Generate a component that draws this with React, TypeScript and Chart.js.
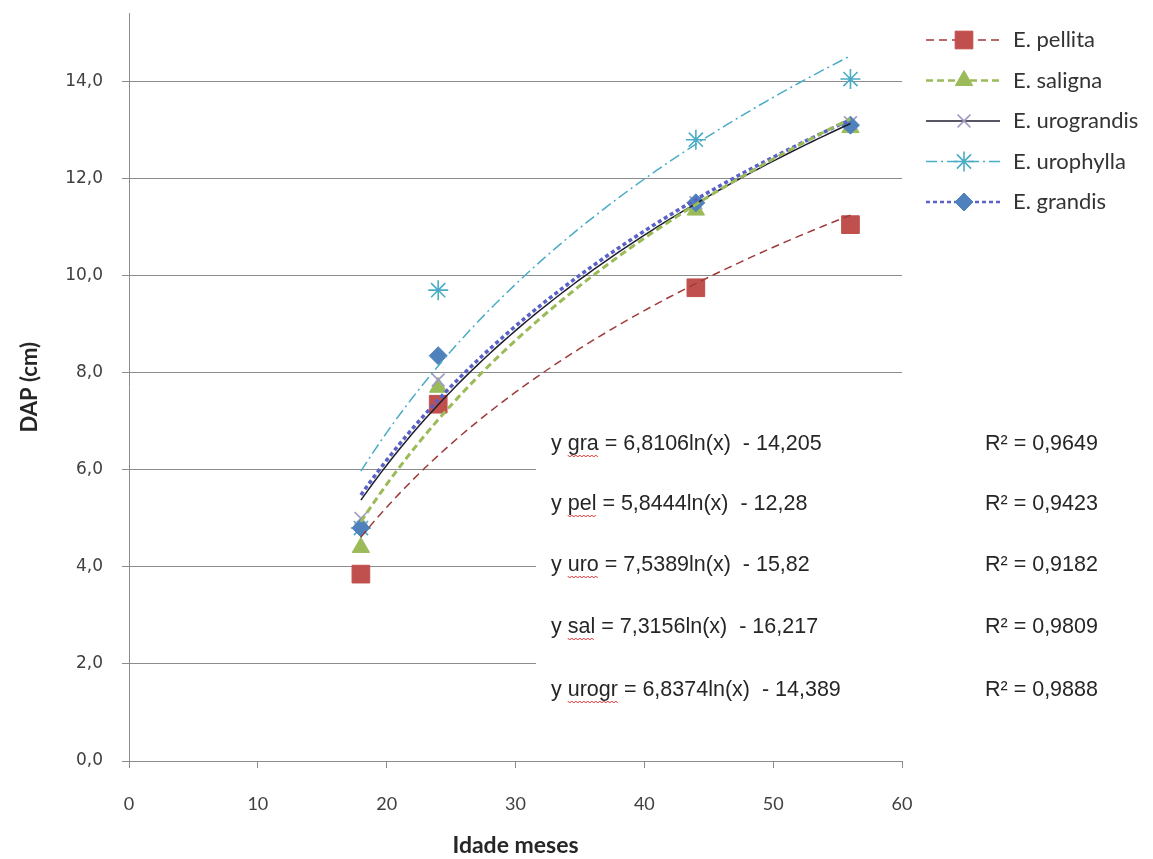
import React, { useEffect, useRef } from 'react';
import { Chart, registerables } from 'chart.js';
import { drawPoint } from 'chart.js/helpers';

Chart.register(...registerables);

// ---- data ----
const ages = [18, 24, 44, 56];
const pellita = [3.85, 7.35, 9.75, 11.05];
const saligna = [4.4, 7.7, 11.35, 13.05];
const urograndis = [5.0, 7.85, 11.5, 13.15];
const urophylla = [4.8, 9.7, 12.8, 14.05];
const grandis = [4.8, 8.35, 11.5, 13.1];

const seriesNames = ['E. pellita', 'E. saligna', 'E. urograndis', 'E. urophylla', 'E. grandis'];
// logarithmic trend lines y = a ln(x) + b, as printed in the chart
const trendA = [5.8444, 7.3156, 6.8374, 7.5389, 6.8106];
const trendB = [-12.28, -16.217, -14.389, -15.82, -14.205];
const trendRange = [18, 56];

const eqNames = ['gra', 'pel', 'uro', 'sal', 'urogr'];
const eqRhs = [
  '= 6,8106ln(x)  - 14,205',
  '= 5,8444ln(x)  - 12,28',
  '= 7,5389ln(x)  - 15,82',
  '= 7,3156ln(x)  - 16,217',
  '= 6,8374ln(x)  - 14,389',
];
const r2Texts = ['R² = 0,9649', 'R² = 0,9423', 'R² = 0,9182', 'R² = 0,9809', 'R² = 0,9888'];

const xTickValues = [0, 10, 20, 30, 40, 50, 60];
const yTickValues = [0, 2, 4, 6, 8, 10, 12, 14];

// ---- styles ----
const markerStyles = [
  { pointStyle: 'rect', radius: 12.5, fill: '#C0504D', stroke: '#C0504D', bw: 1 },
  { pointStyle: 'triangle', radius: 10, fill: '#9BBB59', stroke: '#9BBB59', bw: 1 },
  { pointStyle: 'crossRot', radius: 9, fill: '#9F9BC2', stroke: '#9F9BC2', bw: 1.6 },
  { pointStyle: 'star', radius: 10, fill: '#4BACC6', stroke: '#4BACC6', bw: 1.6 },
  { pointStyle: 'rectRot', radius: 9, fill: '#4F81BD', stroke: '#4F81BD', bw: 1 },
];
const trendStyles = [
  { color: '#9E3B3A', width: 1.5, dash: [8, 5] },
  { color: '#9BBB59', width: 3, dash: [7, 4] },
  { color: '#1E1E30', width: 1.5, dash: [] as number[] },
  { color: '#4BACC6', width: 1.5, dash: [11, 4, 2, 4] },
  { color: '#5A62C8', width: 3.5, dash: [4, 3] },
];
const markerOrder = [12, 13, 11, 14, 10];

const seriesValues = [pellita, saligna, urograndis, urophylla, grandis];

function trendPoints(i: number) {
  const pts: { x: number; y: number }[] = [];
  for (let x = trendRange[0]; x <= trendRange[1] + 1e-9; x += 0.5) {
    pts.push({ x, y: trendA[i] * Math.log(x) + trendB[i] });
  }
  return pts;
}

const legendYs = [40, 80.5, 121, 161.5, 202];

const overlayPlugin = {
  id: 'overlay',
  afterDraw(chart: any) {
    const ctx = chart.ctx as CanvasRenderingContext2D;
    ctx.save();
    // legend
    for (let i = 0; i < seriesNames.length; i++) {
      const y = legendYs[i];
      const ts = trendStyles[i];
      ctx.strokeStyle = ts.color;
      ctx.lineWidth = Math.min(ts.width, 2.5);
      ctx.setLineDash(ts.dash);
      ctx.beginPath();
      ctx.moveTo(926, y);
      ctx.lineTo(1000, y);
      ctx.stroke();
      ctx.setLineDash([]);
      const ms = markerStyles[i];
      ctx.fillStyle = ms.fill;
      ctx.strokeStyle = ms.stroke;
      ctx.lineWidth = ms.bw;
      drawPoint(ctx, { pointStyle: ms.pointStyle as any, radius: ms.radius, borderWidth: ms.bw, rotation: 0 }, 964, y);
      ctx.fillStyle = '#333333';
      ctx.font = '22px Lato';
      ctx.textBaseline = 'middle';
      ctx.textAlign = 'left';
      ctx.fillText(seriesNames[i], 1013, y);
    }
    // equations box
    ctx.fillStyle = '#ffffff';
    ctx.fillRect(536, 418, 580, 300);
    const rowYs = [444, 504, 565, 627, 690];
    ctx.font = '21.5px "Liberation Sans"';
    ctx.textBaseline = 'middle';
    for (let i = 0; i < eqNames.length; i++) {
      const y = rowYs[i];
      let x = 551;
      ctx.fillStyle = '#262626';
      ctx.fillText('y ', x, y);
      x += ctx.measureText('y ').width;
      const nameW = ctx.measureText(eqNames[i]).width;
      ctx.fillText(eqNames[i], x, y);
      // spell-check squiggle
      ctx.strokeStyle = '#E03030';
      ctx.lineWidth = 1;
      ctx.beginPath();
      for (let sx = 0; sx <= nameW; sx += 2) {
        const sy = y + 11 + ((sx / 2) % 2 === 0 ? 0 : 2);
        if (sx === 0) ctx.moveTo(x + sx, sy);
        else ctx.lineTo(x + sx, sy);
      }
      ctx.stroke();
      x += nameW;
      ctx.fillStyle = '#262626';
      ctx.fillText(' ' + eqRhs[i], x, y);
      ctx.fillText(r2Texts[i], 985, y);
    }
    ctx.restore();
  },
};

export default function App() {
  const ref = useRef<HTMLCanvasElement | null>(null);
  useEffect(() => {
    if (!ref.current) return;
    const datasets: any[] = [];
    for (let i = 0; i < seriesNames.length; i++) {
      const ms = markerStyles[i];
      datasets.push({
        type: 'scatter',
        label: seriesNames[i],
        data: ages.map((a, k) => ({ x: a, y: seriesValues[i][k] })),
        pointStyle: ms.pointStyle,
        pointRadius: ms.radius,
        pointBackgroundColor: ms.fill,
        pointBorderColor: ms.stroke,
        pointBorderWidth: ms.bw,
        showLine: false,
        order: markerOrder[i],
      });
    }
    for (let i = 0; i < seriesNames.length; i++) {
      const ts = trendStyles[i];
      datasets.push({
        type: 'scatter',
        label: 'trend ' + seriesNames[i],
        data: trendPoints(i),
        showLine: true,
        borderColor: ts.color,
        borderWidth: ts.width,
        borderDash: ts.dash,
        pointRadius: 0,
        fill: false,
        tension: 0,
        order: i + 1,
      });
    }
    const chart = new Chart(ref.current, {
      type: 'scatter',
      data: { datasets },
      options: {
        responsive: false,
        animation: false,
        layout: { padding: { top: 13, right: 251, left: 0, bottom: 0 } },
        plugins: { legend: { display: false }, tooltip: { enabled: false } },
        scales: {
          x: {
            type: 'linear',
            min: 0,
            max: 60,
            afterFit: (s: any) => { s.height = 98; s.paddingLeft = 0; s.paddingRight = 0; },
            afterBuildTicks: (s: any) => { s.ticks = xTickValues.map((v) => ({ value: v })); },
            grid: { drawOnChartArea: false, drawTicks: true, tickLength: 7, color: '#8C8C8C' },
            border: { display: true, color: '#8C8C8C', width: 1 },
            ticks: { padding: 25, color: '#404040', font: { family: 'Lato', size: 18 } },
            title: {
              display: true,
              text: 'Idade meses',
              color: '#262626',
              font: { family: 'Lato', size: 23, weight: 'bold' },
              padding: { top: 0, bottom: 0 },
            },
          },
          y: {
            type: 'linear',
            min: 0,
            max: 15.4,
            afterFit: (s: any) => { s.width = 129; s.paddingTop = 0; s.paddingBottom = 0; },
            afterBuildTicks: (s: any) => { s.ticks = yTickValues.map((v) => ({ value: v })); },
            grid: { drawTicks: true, tickLength: 7, color: '#8C8C8C', lineWidth: 1 },
            border: { display: true, color: '#8C8C8C', width: 1 },
            ticks: {
              padding: 19,
              color: '#404040',
              font: { family: 'DejaVu Sans', size: 17 },
              callback: (v: any) => Number(v).toFixed(1).replace('.', ','),
            },
            title: {
              display: true,
              text: 'DAP (cm)',
              color: '#262626',
              font: { family: 'Lato', size: 22, weight: 'bold' },
              padding: { top: 17, bottom: 0 },
            },
          },
        },
      },
      plugins: [overlayPlugin],
    });
    return () => chart.destroy();
  }, []);
  return (
    <div style={{ position: 'fixed', left: 0, top: 0, width: 1153, height: 859, background: '#fff' }}>
      <canvas ref={ref} width={1153} height={859} style={{ width: 1153, height: 859, display: 'block' }} />
    </div>
  );
}
